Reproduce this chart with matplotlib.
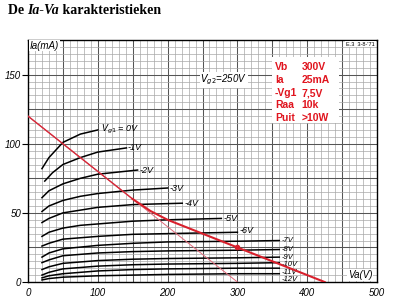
import matplotlib.pyplot as plt
import numpy as np
from matplotlib.patches import Rectangle

# Ia-Va curves, one list per Vg1 value
grid_volts = ['0V', '-1V', '-2V', '-3V', '-4V', '-5V', '-6V',
              '-7V', '-8V', '-9V', '-10V', '-11V', '-12V']

va_0 = [20, 30, 50, 75, 100]
ia_0 = [82, 90, 101, 107, 110]
va_1 = [24, 35, 50, 75, 100, 141]
ia_1 = [73, 79, 85, 90, 94, 97]
va_2 = [20, 30, 50, 75, 100, 157]
ia_2 = [61, 66, 71, 75, 78, 81]
va_3 = [20, 30, 50, 75, 100, 150, 200]
ia_3 = [51, 55, 59, 62, 64, 66.5, 68]
va_4 = [20, 30, 50, 75, 100, 150, 221]
ia_4 = [43, 46, 50, 52, 54, 56, 57]
va_5 = [20, 30, 50, 75, 100, 150, 200, 277]
ia_5 = [33, 36, 39, 41, 42, 44, 45, 46]
va_6 = [20, 30, 50, 100, 150, 200, 250, 300]
ia_6 = [26, 28, 31, 33, 34.5, 35, 35.5, 36]
va_rest = [20, 30, 50, 100, 150, 200, 300, 360]
ia_7 = [18, 21, 24, 26.5, 28, 29, 29.5, 30]
ia_8 = [14, 16, 19, 21, 22, 22.5, 23, 23.5]
ia_9 = [9, 11, 13.5, 15.5, 16.5, 17, 17.5, 18]
ia_10 = [5, 7, 9.5, 11.5, 12.5, 13, 13.5, 14]
ia_11 = [3, 4.5, 6, 8, 9, 9.5, 10, 10]
ia_12 = [1.5, 2.5, 3.5, 4.5, 5, 5.5, 6, 6]

curves = [(va_0, ia_0), (va_1, ia_1), (va_2, ia_2), (va_3, ia_3),
          (va_4, ia_4), (va_5, ia_5), (va_6, ia_6),
          (va_rest, ia_7), (va_rest, ia_8), (va_rest, ia_9),
          (va_rest, ia_10), (va_rest, ia_11), (va_rest, ia_12)]

# curve label positions (V, mA)
label_pos = [(104, 110), (143, 97), (160, 81), (203, 68), (224, 57),
             (280, 46), (303, 37), (363, 30), (363, 23.5), (363, 18),
             (363, 12.5), (363, 7), (363, 1.8)]

# load lines
thin_va = [0, 300]
thin_ia = [120, 0]
thick_va = [0, 150, 175, 200, 425]
thick_ia = [120, 60, 51.5, 45, 0]
work_va, work_ia = 300, 25

info_keys = ['Vb', 'Ia', '-Vg1', 'Raa', 'Puit']
info_vals = ['300V', '25mA', '7,5V', '10k', '>10W']

fig = plt.figure(figsize=(4.0, 3.07), dpi=100)
ax = fig.add_axes([0.07, 0.0814, 0.8725, 0.788])
ax.set_xlim(0, 500)
ax.set_ylim(0, 175)

ax.set_xticks([0, 100, 200, 300, 400, 500])
ax.set_yticks([0, 50, 100, 150])
for v in np.arange(10, 500, 10):
    c, lw = ('#555555', 0.75) if v % 50 == 0 else ('#a8a8a8', 0.5)
    ax.axvline(v, color=c, lw=lw, zorder=0)
for i in np.arange(5, 175, 5):
    c, lw = ('#555555', 0.75) if i % 25 == 0 else ('#a8a8a8', 0.5)
    ax.axhline(i, color=c, lw=lw, zorder=0)

tick_font = dict(family='Liberation Sans', style='italic', size=7)
ax.set_xticklabels(['0', '100', '200', '300', '400', '500'], **tick_font)
ax.set_yticklabels(['0', '50', '100', '150'], **tick_font)
ax.tick_params(axis='x', length=0, pad=4)
ax.tick_params(axis='y', length=4, width=0.8, pad=1)
for s in ax.spines.values():
    s.set_linewidth(1.0)

for (va, ia), name, (lx, ly) in zip(curves, grid_volts, label_pos):
    ax.plot(va, ia, color='black', lw=1.1, zorder=3)
    txt = r'$V_{g1}$ = 0V' if name == '0V' else name
    fs = 5.5 if lx > 360 else 6.5
    ax.text(lx, ly, txt, fontsize=fs, style='italic', family='Liberation Sans',
            ha='left', va='center', zorder=4)

ax.plot(thin_va, thin_ia, color='#e06a7a', lw=0.7, zorder=5)
ax.plot(thick_va[:2], thick_ia[:2], color='#d42a3a', lw=1.0, zorder=5)
ax.plot(thick_va[1:], thick_ia[1:], color='#d8202c', lw=1.5, zorder=5)
ax.plot([work_va], [work_ia], 'o', color='#d8202c', ms=3, zorder=6)

# info box
ax.add_patch(Rectangle((349, 115), 97, 48, facecolor='white', edgecolor='none', zorder=6))
rows_y = [155.5, 146, 136.6, 128, 119]
for k, v, y in zip(info_keys, info_vals, rows_y):
    ax.text(354, y, k, color='#e0141e', fontsize=7.5, fontweight='bold',
            family='Liberation Sans', va='center', zorder=7)
    ax.text(392, y, v, color='#e0141e', fontsize=7.5, fontweight='bold',
            family='Liberation Sans', va='center', zorder=7)

wbox = dict(facecolor='white', edgecolor='none', pad=0.5)
ax.text(3, 171, 'Ia(mA)', fontsize=7, style='italic', family='Liberation Sans',
        va='center', ha='left', bbox=wbox, zorder=7)
ax.text(247, 146, r'$V_{g2}$=250V', fontsize=7, style='italic', family='Liberation Sans',
        va='center', ha='left', bbox=wbox, zorder=7)
ax.text(458, 5, 'Va(V)', fontsize=7, style='italic', family='Liberation Sans',
        va='center', ha='left', bbox=wbox, zorder=7)
ax.text(497, 172, "E.3  3-8-'71", fontsize=4, family='Liberation Sans',
        va='center', ha='right', bbox=wbox, zorder=7)

# title in three pieces
tf = dict(family='Liberation Serif', fontweight='bold', size=10)
t1 = fig.text(0.02, 0.945, 'De ', va='bottom', ha='left', **tf)
t2 = fig.text(0, 0, 'Ia-Va', style='italic', va='bottom', ha='left', **tf)
t3 = fig.text(0, 0, ' karakteristieken', va='bottom', ha='left', **tf)
fig.canvas.draw()
r = fig.canvas.get_renderer()
b1 = t1.get_window_extent(r).transformed(fig.transFigure.inverted())
t2.set_position((b1.x1, 0.945))
b2 = t2.get_window_extent(r).transformed(fig.transFigure.inverted())
t3.set_position((b2.x1, 0.945))

fig.savefig('out.png', dpi=100)
